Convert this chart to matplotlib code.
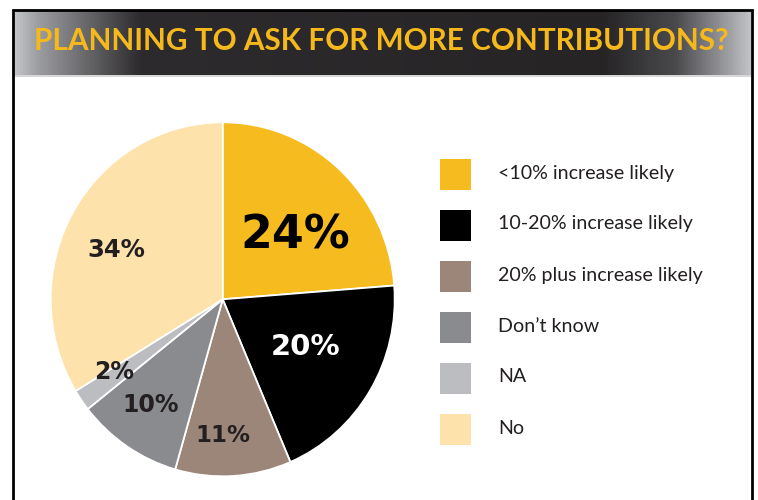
import numpy as np
import matplotlib
matplotlib.use('Agg')
import matplotlib.pyplot as plt
from matplotlib.colors import LinearSegmentedColormap
from matplotlib.patches import Rectangle

# ── data ─────────────────────────────────────────────────────────────────────
categories = ['<10% increase likely', '10-20% increase likely',
              '20% plus increase likely', "Don\u2019t know", 'NA', 'No']
shares     = [24, 20, 11, 10, 2, 34]
colors     = ['#f6bb1e', '#000000', '#9b8679', '#8a8b8f', '#bcbdc1', '#fde2ab']

# label styling per slice: (x, y) in pie units, font size, text colour
label_pos   = [(0.42, 0.36), (0.48, -0.27), (0.0, -0.77),
               (-0.42, -0.60), (-0.63, -0.41), (-0.62, 0.28)]
label_size  = [33, 21, 16.5, 17, 17, 17.5]
label_color = ['#000000', '#ffffff', '#231f20', '#231f20', '#231f20', '#231f20']

TITLE = 'PLANNING TO ASK FOR MORE CONTRIBUTIONS?'
W, H = 758, 500

fig = plt.figure(figsize=(W / 100, H / 100), dpi=100)
fig.patch.set_facecolor('white')

# background axes in pixel units (y down)
bg = fig.add_axes([0, 0, 1, 1])
bg.set_xlim(0, W)
bg.set_ylim(H, 0)
bg.axis('off')

# header bar: grey → near-black → grey
hdr = LinearSegmentedColormap.from_list(
    'hdr', [(0.0, '#c4c5c9'), (0.03, '#9d9ea2'), (0.17, '#2d2b2d'),
            (0.80, '#262425'), (0.90, '#4a4a4d'), (1.0, '#c0c1c5')])
grad = np.linspace(0, 1, 512).reshape(1, -1)
bg.imshow(grad, cmap=hdr, aspect='auto', extent=[14, 751, 75, 11], zorder=1)
bg.plot([14, 751], [75.5, 75.5], color='#cfcfd1', lw=1.2, zorder=2)

# frame
bg.plot([13, 13, 752, 752], [510, 10, 10, 510], color='#000000',
        lw=2.0, solid_joinstyle='miter', zorder=3)

bg.text(381, 41, TITLE, color='#f6b91c', fontsize=21.4, fontweight='bold',
        family='Lato', ha='center', va='center', zorder=4)

# ── pie ──────────────────────────────────────────────────────────────────────
cx, cy, rx, ry = 222.7, 299.3, 172, 177
ax = fig.add_axes([(cx - rx) / W, (H - cy - ry) / H, 2 * rx / W, 2 * ry / H])
wedges, _ = ax.pie(shares, colors=colors, startangle=90, counterclock=False,
                   radius=1.0, wedgeprops=dict(edgecolor='white', linewidth=1.3))
ax.set_aspect('auto')
ax.set_xlim(-1, 1)
ax.set_ylim(-1, 1)
ax.axis('off')

for val, (lx, ly), fs, tc in zip(shares, label_pos, label_size, label_color):
    ax.text(lx, ly, f'{val}%', fontsize=fs, fontweight='bold', color=tc,
            family='DejaVu Sans', ha='center', va='center')

# ── legend ───────────────────────────────────────────────────────────────────
for i, (cat, col) in enumerate(zip(categories, colors)):
    yc = 174 + i * 51
    bg.add_patch(Rectangle((440, yc - 15.5), 31, 31, facecolor=col,
                           edgecolor='none', zorder=2))
    bg.text(498, yc - 1, cat, fontsize=14.1, color='#231f20', family='Lato',
            ha='left', va='center', zorder=3)

fig.savefig('out.png', dpi=100)
